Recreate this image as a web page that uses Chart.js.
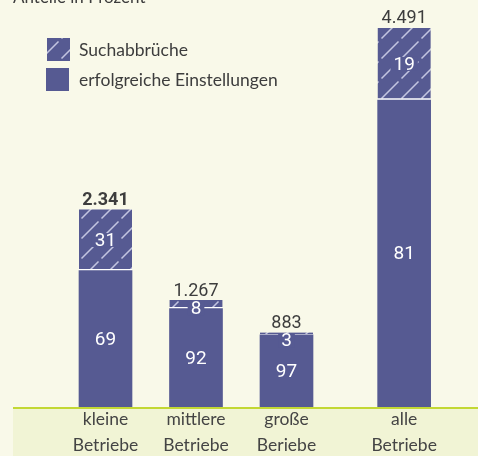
<!DOCTYPE html>
<html>
<head>
<meta charset="utf-8">
<script src="https://cdn.jsdelivr.net/npm/chart.js@4/dist/chart.umd.min.js"></script>
<style>
  html, body { margin: 0; padding: 0; background: #f9f9e9; }
  #wrap { width: 478px; height: 456px; position: relative; }
</style>
</head>
<body>
<div id="wrap"><canvas id="c" width="478" height="456"></canvas></div>
<script>
// ---- data ----
const categories = [['kleine', 'Betriebe'], ['mittlere', 'Betriebe'], ['große', 'Beriebe'], ['alle', 'Betriebe']];
const positions = [1, 2, 3, 4.3];
const totals = [2341, 1267, 883, 4491];
const totalLabels = ['2.341', '1.267', '883', '4.491'];
const successPct = [69, 92, 97, 81];
const abortPct = [31, 8, 3, 19];
const seriesNames = ['erfolgreiche Einstellungen', 'Suchabbrüche'];
const titleText = 'Anteile in Prozent';

// ---- styles ----
const BAR = '#565a92';
const HATCH = '#c3c5e0';
const BG = '#f9f9e9';
const BAND = '#f1f4d5';
const GREEN = '#c3d834';
const TXT = '#3d3d3d';

function makeHatch() {
  const s = 20;
  const c = document.createElement('canvas');
  c.width = s; c.height = s;
  const g = c.getContext('2d');
  g.fillStyle = BAR; g.fillRect(0, 0, s, s);
  g.strokeStyle = HATCH; g.lineWidth = 1.6; g.lineCap = 'butt';
  g.beginPath(); g.moveTo(1.5, s - 1.5); g.lineTo(s - 1.5, 1.5); g.stroke();
  return g.createPattern(c, 'repeat');
}
const hatch = makeHatch();

const successData = totals.map((t, i) => ({ x: positions[i], y: t * successPct[i] / 100 }));
const abortData = totals.map((t, i) => ({ x: positions[i], y: t * abortPct[i] / 100 }));

const decor = {
  id: 'decor',
  beforeDraw(chart) {
    const ctx = chart.ctx;
    ctx.save();
    ctx.fillStyle = BG;
    ctx.fillRect(0, 0, chart.width, chart.height);
    ctx.fillStyle = BAND;
    ctx.fillRect(13, chart.chartArea.bottom, chart.width - 13, chart.height - chart.chartArea.bottom);
    ctx.fillStyle = TXT;
    ctx.font = '17px Lato';
    ctx.textBaseline = 'alphabetic';
    ctx.fillText(titleText, 13, 3);
    ctx.restore();
  },
  afterDraw(chart) {
    const ctx = chart.ctx;
    ctx.save();
    ctx.strokeStyle = GREEN;
    ctx.lineWidth = 2;
    const yb = chart.chartArea.bottom + 1;
    ctx.beginPath(); ctx.moveTo(13, yb); ctx.lineTo(chart.width, yb); ctx.stroke();
    // legend
    ctx.fillStyle = hatch;
    ctx.fillRect(47, 38, 23, 23);
    ctx.fillStyle = BAR;
    ctx.fillRect(46, 68, 23, 23);
    ctx.fillStyle = TXT;
    ctx.font = '17.5px Lato';
    ctx.textBaseline = 'middle';
    ctx.textAlign = 'left';
    ctx.fillText(chart.data.datasets[1].label, 79, 50);
    ctx.fillText(chart.data.datasets[0].label, 79, 80);

    const m0 = chart.getDatasetMeta(0).data;
    const m1 = chart.getDatasetMeta(1).data;
    ctx.textAlign = 'center';
    for (let i = 0; i < m0.length; i++) {
      const b = m0[i], t = m1[i];
      ctx.font = '19px Roboto';
      ctx.fillStyle = '#ffffff';
      ctx.textBaseline = 'middle';
      ctx.fillText(String(successPct[i]), b.x, (b.y + b.base) / 2 + 1);
      const cy = Math.max((t.y + t.base) / 2, t.y + 8);
      const s = String(abortPct[i]);
      const w = ctx.measureText(s).width;
      ctx.fillStyle = BAR;
      ctx.fillRect(b.x - w / 2 - 3, cy - 7, w + 6, 14);
      ctx.fillStyle = '#ffffff';
      ctx.fillText(s, b.x, cy + 1);
      ctx.fillStyle = TXT;
      ctx.font = (i === 0 ? 'bold ' : '') + '18px Roboto';
      ctx.textBaseline = 'alphabetic';
      ctx.fillText(totalLabels[i], t.x, t.y - 4.5);
    }
    ctx.restore();
  }
};

new Chart(document.getElementById('c'), {
  type: 'bar',
  data: {
    datasets: [
      { label: seriesNames[0], data: successData, backgroundColor: BAR, borderWidth: 0, barThickness: 53 },
      { label: seriesNames[1], data: abortData, backgroundColor: hatch, borderColor: '#ffffff',
        borderWidth: { top: 0, left: 0, right: 0, bottom: 2 }, borderSkipped: false, barThickness: 53 }
    ]
  },
  options: {
    responsive: false,
    animation: false,
    events: [],
    layout: { padding: { left: 15, right: 0, top: 0, bottom: 0 } },
    plugins: { legend: { display: false }, tooltip: { enabled: false }, title: { display: false } },
    scales: {
      x: {
        type: 'linear', stacked: true, min: 0, max: 5.116, offset: false,
        grid: { display: false, drawTicks: false },
        border: { display: false },
        afterBuildTicks(scale) { scale.ticks = positions.map(v => ({ value: v })); },
        afterFit(scale) { scale.height = 49; },
        ticks: {
          autoSkip: false, maxRotation: 0, minRotation: 0, padding: -1,
          color: '#444', font: { family: 'Lato', size: 17.5, lineHeight: 1.5 },
          callback(value, index) { return categories[index]; }
        }
      },
      y: { stacked: true, display: false, min: 0, max: 4822 }
    }
  },
  plugins: [decor]
});
</script>
</body>
</html>
